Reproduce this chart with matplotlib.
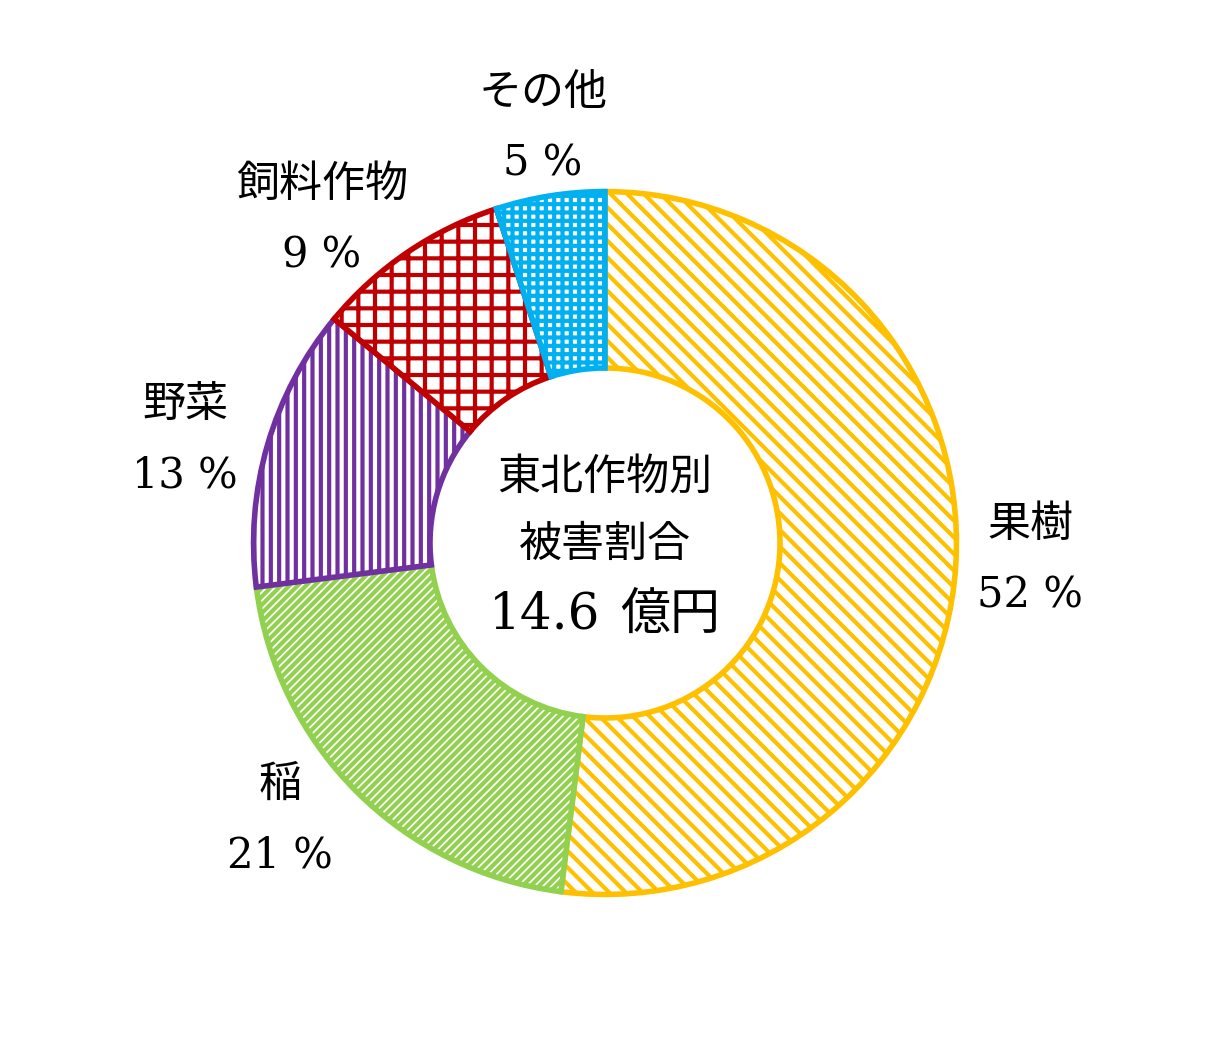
import matplotlib
matplotlib.use("Agg")
import matplotlib.pyplot as plt
from matplotlib.patches import Wedge
import matplotlib as mpl

categories = ["果樹", "稲", "野菜", "飼料作物", "その他"]
values = [52, 21, 13, 9, 5]
colors = ["#FFC000", "#92D050", "#7030A0", "#C00000", "#00B0F0"]
hatches = ["\\\\", "////", "||", "+", "++"]
label_pos = [(1030, 525), (280, 785), (185, 405), (322, 185), (543, 93)]

mpl.rcParams['hatch.linewidth'] = 3
fig = plt.figure(figsize=(12.05, 10.46), dpi=100)
cx, cy, R = 605, 543, 355
W, H = 1205, 1046
ax = fig.add_axes([(cx - R) / W, 1 - (cy + R) / H, 2 * R / W, 2 * R / H])
ax.set_xlim(-1, 1); ax.set_ylim(-1, 1); ax.axis("off")

jp = "Noto Sans CJK JP"
start = 90
inner = 175 / 355
width = 1 - inner
for v, c, h in zip(values, colors, hatches):
    th2 = start; th1 = start - v * 3.6
    ax.add_patch(Wedge((0, 0), 0.99, th1, th2, width=width - 0.01, facecolor="white",
                       edgecolor=c, hatch=h, linewidth=0))
    ax.add_patch(Wedge((0, 0), 0.99, th1, th2, width=width - 0.01, facecolor="none",
                       edgecolor=c, linewidth=4))
    start = th1

def d(px, py):
    return (px - cx) / R, (cy - py) / R

for name, v, (px, py) in zip(categories, values, label_pos):
    ax.text(*d(px, py), name, fontfamily=jp, fontsize=31, ha="center", va="center", clip_on=False)
    ax.text(*d(px, py + 70), f"{v} %", fontfamily="DejaVu Serif", fontsize=30, ha="center", va="center", clip_on=False)

ax.text(*d(605, 478), "東北作物別", fontfamily=jp, fontsize=31, ha="center", va="center")
ax.text(*d(605, 545), "被害割合", fontfamily=jp, fontsize=31, ha="center", va="center")
ax.text(*d(545, 615), "14.6", fontfamily="DejaVu Serif", fontsize=36, ha="center", va="center")
ax.text(*d(670, 615), "億円", fontfamily=jp, fontsize=36, ha="center", va="center")

fig.savefig("out.png", dpi=100)
